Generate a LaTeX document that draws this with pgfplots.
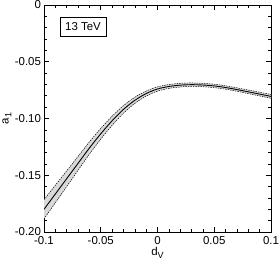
\documentclass[border=0pt]{standalone}
\usepackage{fontspec}
\setmainfont{Liberation Sans}
\usepackage{pgfplots}
\usepackage{pgfplotstable}
\pgfplotsset{compat=1.18}
\usepgfplotslibrary{fillbetween}
\pgfplotstableread{
x c hi lo
-0.10 -0.1800 -0.1715 -0.1885
-0.09 -0.1665 -0.1588 -0.1742
-0.08 -0.1530 -0.1461 -0.1599
-0.07 -0.1395 -0.1334 -0.1456
-0.06 -0.1260 -0.1206 -0.1314
-0.05 -0.1135 -0.1088 -0.1182
-0.04 -0.1020 -0.0980 -0.1060
-0.03 -0.0920 -0.0887 -0.0953
-0.02 -0.0840 -0.0813 -0.0867
-0.01 -0.0780 -0.0758 -0.0802
0.00 -0.0740 -0.0721 -0.0759
0.01 -0.0718 -0.0701 -0.0735
0.02 -0.0706 -0.0690 -0.0722
0.03 -0.0702 -0.0687 -0.0717
0.04 -0.0705 -0.0690 -0.0720
0.05 -0.0713 -0.0698 -0.0728
0.06 -0.0727 -0.0712 -0.0742
0.07 -0.0745 -0.0730 -0.0760
0.08 -0.0765 -0.0749 -0.0781
0.09 -0.0785 -0.0769 -0.0801
0.10 -0.0805 -0.0788 -0.0822
}\band
\begin{document}
\begin{tikzpicture}
\begin{axis}[
  name=ax,
  scale only axis,
  width=227bp, height=227bp,
  xmin=-0.1, xmax=0.1, ymin=-0.2, ymax=0,
  font=\fontsize{11.5}{13}\selectfont,
  xtick={-0.1,-0.05,0,0.05,0.1},
  xticklabels={-0.1,-0.05,0,0.05,0.1},
  ytick={-0.2,-0.15,-0.1,-0.05,0},
  yticklabels={-0.20,-0.15,-0.10,-0.05,0},
  minor x tick num=4, minor y tick num=4,
  tick align=inside, xtick pos=both, ytick pos=both,
  major tick length=5bp, minor tick length=3bp,
  tick style={black, line width=0.6pt},
  axis line style={line width=0.8pt},
  xticklabel style={yshift=-1bp},
  yticklabel style={xshift=0.5bp},
  /pgf/number format/assume math mode=true,
  xlabel={d\raisebox{-0.45ex}{\fontsize{9}{10}\selectfont V}},
  ylabel={a\raisebox{-0.45ex}{\fontsize{9}{10}\selectfont 1}},
  xlabel style={at={(axis description cs:0.5,0)}, anchor=north, yshift=-11.5bp},
  ylabel style={at={(axis description cs:-0.128,0.5)}, anchor=south, rotate=0},
]
\addplot[name path=up, black, line width=0.5pt, dash pattern=on 1.5pt off 1pt, smooth] table[x=x,y=hi]{\band};
\addplot[name path=dn, black, line width=0.5pt, dash pattern=on 1.5pt off 1pt, smooth] table[x=x,y=lo]{\band};
\addplot[fill=black!15, draw=none] fill between[of=up and dn];
\addplot[black, line width=0.9pt, smooth] table[x=x,y=c]{\band};
\node[draw=black, line width=0.6pt, anchor=north west, inner xsep=5bp, inner ysep=5bp, fill=white]
  at (rel axis cs:0.07,0.945) {13 TeV};
\end{axis}
\pgfresetboundingbox
\path[use as bounding box] ([shift={(-44bp,-30bp)}]ax.south west) rectangle ([shift={(8bp,5bp)}]ax.north east);
\end{tikzpicture}
\end{document}
